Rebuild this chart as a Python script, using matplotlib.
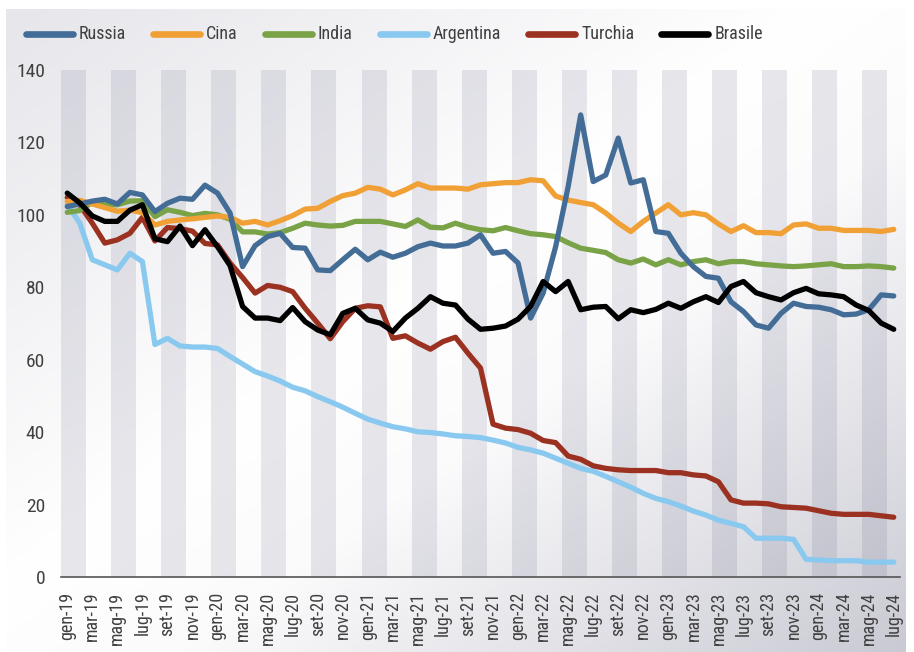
import numpy as np
import matplotlib
matplotlib.use("Agg")
import matplotlib.pyplot as plt
from matplotlib.lines import Line2D
from matplotlib.colors import LinearSegmentedColormap

# Monthly index values, Jan 2019 - Jul 2024
mesi = ["gen", "feb", "mar", "apr", "mag", "giu", "lug", "ago", "set", "ott", "nov", "dic"]
periodi = [f"{mesi[m]}-{19 + y}" for y in range(6) for m in range(12)][:67]

russia = [102.3, 103, 103.8, 104.3, 103, 106.2, 105.5, 100.9, 103.2, 104.6,
          104.3, 108.2, 106, 100.5, 85.7, 91.5, 94, 94.9, 91, 90.8,
          84.8, 84.6, 87.6, 90.5, 87.6, 89.7, 88.3, 89.4, 91.2, 92.2,
          91.4, 91.4, 92.2, 94.5, 89.4, 89.9, 86.7, 71.5, 78.4, 91.2,
          107.8, 127.6, 109.2, 111, 121.2, 108.8, 109.7, 95.4, 94.9, 89.4,
          85.7, 83, 82.5, 76, 73.3, 69.6, 68.7, 72.8, 75.6, 74.7,
          74.5, 73.8, 72.4, 72.6, 73.8, 77.9, 77.6]
cina = [103.7, 104, 103, 102, 101, 101.3, 100.6, 97.2, 98.2, 98.6,
        98.9, 99.3, 99.7, 99.3, 97.7, 98.2, 97.2, 98.4, 99.8, 101.6,
        101.8, 103.7, 105.3, 106, 107.6, 107.1, 105.5, 106.9, 108.6, 107.4,
        107.4, 107.4, 107.1, 108.3, 108.6, 108.9, 108.9, 109.7, 109.4, 105.2,
        104.1, 103.4, 102.8, 100.5, 97.7, 95.4, 98.2, 100.5, 102.8, 100,
        100.6, 100, 97.5, 95.4, 97, 95.1, 95.1, 94.8, 97.2, 97.5,
        96.3, 96.3, 95.7, 95.7, 95.7, 95.4, 96]
india = [100.7, 101.2, 103.5, 102.8, 102.8, 103.8, 103.9, 99.5, 101.4, 100.7,
         99.8, 100.4, 100, 98.8, 95.3, 95.3, 94.7, 95.1, 96.3, 97.7,
         97.2, 96.9, 97.1, 98.2, 98.2, 98.2, 97.5, 96.8, 98.6, 96.6,
         96.4, 97.7, 96.6, 95.9, 95.6, 96.5, 95.6, 94.8, 94.5, 94,
         92.3, 90.8, 90.2, 89.6, 87.6, 86.7, 87.8, 86.2, 87.6, 86.2,
         87.1, 87.6, 86.5, 87.1, 87.1, 86.5, 86.2, 85.9, 85.7, 85.9,
         86.2, 86.5, 85.7, 85.7, 85.9, 85.7, 85.3]
argentina = [102.8, 97.7, 87.6, 86.2, 84.8, 89.4, 87.1, 64.2, 65.9, 63.8,
             63.5, 63.5, 63.1, 60.9, 58.8, 56.7, 55.5, 54.1, 52.4, 51.4,
             49.8, 48.4, 46.9, 45.2, 43.6, 42.5, 41.5, 40.9, 40.1, 39.9,
             39.5, 39, 38.8, 38.5, 37.8, 37, 35.8, 35.1, 34.2, 32.8,
             31.4, 30, 29.2, 27.8, 26.3, 24.8, 23.1, 21.7, 20.8, 19.6,
             18.2, 17.1, 15.7, 14.8, 13.9, 10.7, 10.7, 10.7, 10.4, 4.9,
             4.7, 4.5, 4.5, 4.5, 4.1, 4.1, 4.1]
turchia = [104.8, 102.7, 97.7, 92.2, 93.1, 94.9, 99.3, 92.8, 96.5, 96.2,
           95.5, 92.1, 91.7, 86.7, 82.7, 78.4, 80.5, 80, 78.8, 74.2,
           70.1, 65.8, 70.5, 74.2, 74.9, 74.6, 65.9, 66.6, 64.6, 62.9,
           65, 66.2, 61.8, 57.7, 42.2, 41.1, 40.7, 39.7, 37.7, 37.1,
           33.4, 32.5, 30.7, 30, 29.6, 29.4, 29.4, 29.4, 28.8, 28.8,
           28.2, 27.9, 26.3, 21.3, 20.4, 20.4, 20.2, 19.4, 19.2, 19,
           18.3, 17.6, 17.3, 17.3, 17.3, 16.9, 16.5]
brasile = [106, 103.3, 99.7, 98.2, 98.2, 101.3, 102.8, 93.4, 92.6, 96.9,
           91.5, 95.9, 91.2, 86, 74.7, 71.5, 71.5, 70.8, 74.4, 70.5,
           68.2, 66.9, 72.8, 74.2, 71, 70.1, 67.8, 71.5, 74.2, 77.4,
           75.6, 75.1, 71.2, 68.4, 68.7, 69.3, 71.2, 74.7, 81.6, 78.8,
           81.6, 73.8, 74.5, 74.7, 71.3, 73.8, 73, 73.9, 75.6, 74.2,
           76, 77.4, 75.8, 80.2, 81.6, 78.5, 77.4, 76.5, 78.5, 79.7,
           78.2, 77.9, 77.4, 75.1, 73.6, 70.1, 68.4]

paesi = ["Russia", "Cina", "India", "Argentina", "Turchia", "Brasile"]
serie = [russia, cina, india, argentina, turchia, brasile]
colori = ["#436d96", "#f0a035", "#79a346", "#8ac9ef", "#9b3121", "#000000"]
livelli = [4, 3.5, 3, 1, 2, 5]

FONT = ["Roboto Condensed", "Liberation Sans Narrow", "Roboto", "DejaVu Sans"]
plt.rcParams["font.family"] = FONT
TXT = "#404040"

W, H = 914, 652
fig = plt.figure(figsize=(W / 100, H / 100), dpi=100)
fig.patch.set_facecolor("white")

# diagonal backdrop: grey top-left, white centre, darker bottom-right
bg = fig.add_axes([6 / W, 0, 900 / W, 643 / H], zorder=-2)
gx, gy = np.meshgrid(np.linspace(0, 1, 300), np.linspace(0, 1, 220))
t = (gx + gy) / 2
cmap = LinearSegmentedColormap.from_list(
    "fondo", [(0, "#e6e6eb"), (0.45, "#ffffff"), (0.6, "#fbfbfc"), (1, "#cacad4")])
bg.imshow(t, cmap=cmap, aspect="auto", extent=[0, 1, 0, 1], origin="upper",
          vmin=0, vmax=1, interpolation="bilinear")
bg.axis("off")

ax = fig.add_axes([61 / W, 1 - 577 / H, (900 - 61) / W, (577 - 70) / H])
ax.set_facecolor("none")

x = np.arange(len(periodi))
ax.set_xlim(-0.5, len(periodi) - 0.5)
ax.set_ylim(0, 140)

# alternating two-month bands
for i in range(0, len(periodi), 4):
    ax.axvspan(i - 0.5, min(i + 1.5, len(periodi) - 0.5), color="#6e6e8c",
               alpha=0.16, lw=0, zorder=0)

for nome, vals, col, z in zip(paesi, serie, colori, livelli):
    ax.plot(x, vals, color=col, lw=3.8, solid_joinstyle="round",
            solid_capstyle="round", zorder=z + 2, label=nome)

ax.set_yticks(range(0, 141, 20))
ax.set_xticks(x[::2])
ax.set_xticklabels(periodi[::2], rotation=90, fontsize=13, color=TXT)
ax.tick_params(axis="x", length=0, pad=10.5)
ax.tick_params(axis="y", length=0, pad=11.5, labelsize=14, labelcolor=TXT)
for s in ["top", "right", "left"]:
    ax.spines[s].set_visible(False)
ax.spines["bottom"].set_color("#555555")
ax.spines["bottom"].set_linewidth(1.2)
ax.spines["bottom"].set_zorder(10)

# legend row along the top
fig.canvas.draw()
rend = fig.canvas.get_renderer()
px = 26
yl = 1 - 34 / H
for nome, col in zip(paesi, colori):
    fig.add_artist(Line2D([px / W, (px + 47) / W], [yl, yl], color=col, lw=4.8,
                          solid_capstyle="round", transform=fig.transFigure))
    tx = fig.text((px + 53) / W, yl, nome, fontsize=13, color=TXT,
                  va="center", ha="left")
    bb = tx.get_window_extent(rend)
    px = bb.x1 + 27

fig.savefig("out.png", dpi=100)
